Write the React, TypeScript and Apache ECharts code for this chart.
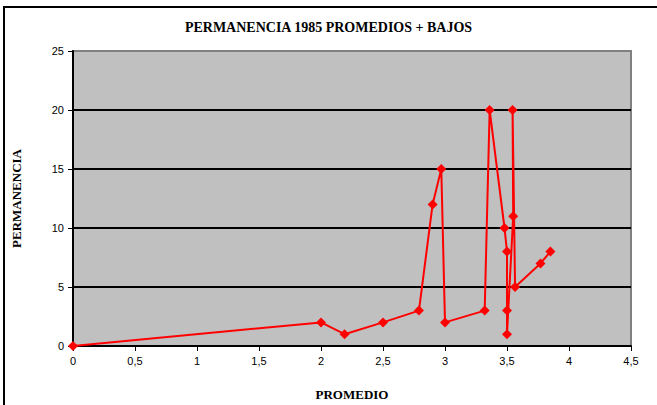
import React, { useEffect, useRef } from "react";
import * as echarts from "echarts";

const promedio = [0, 2, 2.19, 2.5, 2.79, 2.9, 2.97, 3.0, 3.32, 3.36, 3.48, 3.5, 3.5, 3.5, 3.55, 3.545, 3.565, 3.77, 3.85];
const permanencia = [0, 2, 1, 2, 3, 12, 15, 2, 3, 20, 10, 8, 3, 1, 11, 20, 5, 7, 8];

const titleText = "PERMANENCIA 1985 PROMEDIOS + BAJOS";
const xName = "PROMEDIO";
const yName = "PERMANENCIA";

export default function App() {
  const ref = useRef<HTMLDivElement>(null);
  useEffect(() => {
    if (!ref.current) return;
    const chart = echarts.init(ref.current, undefined, { renderer: "svg" });
    const serif = "'Liberation Serif', 'Times New Roman', serif";
    const sans = "'Liberation Sans', Arial, sans-serif";
    chart.setOption({
      animation: false,
      backgroundColor: "#ffffff",
      title: {
        text: titleText,
        left: "center",
        top: 15,
        textStyle: { fontFamily: serif, fontSize: 14, fontWeight: "bold", color: "#000" },
      },
      graphic: [
        {
          type: "rect",
          shape: { x: 4, y: 7, width: 720, height: 500 },
          style: { fill: "none", stroke: "#000", lineWidth: 2 },
          silent: true,
        },
      ],
      grid: {
        left: 73,
        top: 51,
        right: 26,
        bottom: 59,
        outerBoundsMode: "none",
        containLabel: false,
        show: true,
        backgroundColor: "#C0C0C0",
        borderColor: "#808080",
        borderWidth: 2,
      },
      xAxis: {
        type: "value",
        min: 0,
        max: 4.5,
        interval: 0.5,
        name: xName,
        nameLocation: "middle",
        nameGap: 42,
        nameTextStyle: { fontFamily: serif, fontSize: 13, fontWeight: "bold", color: "#000" },
        axisLine: { show: true, onZero: false, lineStyle: { color: "#000", width: 2 } },
        axisTick: { show: true, length: 5, lineStyle: { color: "#000", width: 1 } },
        axisLabel: {
          fontFamily: sans,
          fontSize: 11,
          color: "#000",
          margin: 9,
          formatter: (v: number) => String(v).replace(".", ","),
        },
        splitLine: { show: false },
      },
      yAxis: {
        type: "value",
        min: 0,
        max: 25,
        interval: 5,
        name: yName,
        nameLocation: "middle",
        nameGap: 50,
        nameRotate: 90,
        nameTextStyle: { fontFamily: serif, fontSize: 13, fontWeight: "bold", color: "#000" },
        axisLine: { show: true, onZero: false, lineStyle: { color: "#000", width: 2 } },
        axisTick: { show: true, length: 5, lineStyle: { color: "#000", width: 1 } },
        axisLabel: { fontFamily: sans, fontSize: 11, color: "#000", margin: 9 },
        splitLine: {
          show: true,
          lineStyle: { color: ["#000", "#000", "#000", "#000", "#000", "#808080"], width: 2 },
        },
      },
      series: [
        {
          type: "line",
          data: promedio.map((x, i) => [x, permanencia[i]]),
          symbol: "diamond",
          symbolSize: 10,
          showSymbol: true,
          clip: false,
          lineStyle: { color: "#FF0000", width: 2 },
          itemStyle: { color: "#FF0000" },
        },
      ],
    });
    return () => chart.dispose();
  }, []);
  return <div ref={ref} style={{ position: "absolute", left: 0, top: 0, width: 657, height: 405 }} />;
}
